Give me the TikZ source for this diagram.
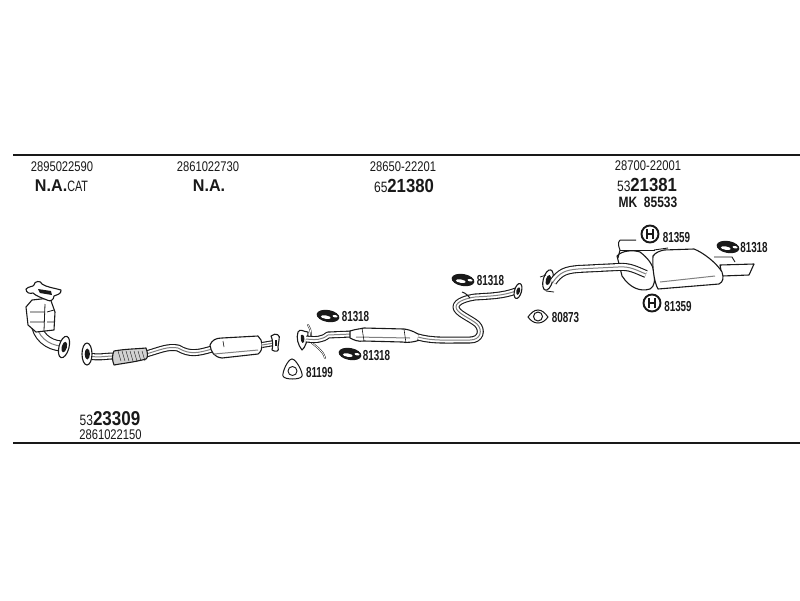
\documentclass[tikz,border=0pt]{standalone}
\usepackage{fontspec}
\setmainfont{Liberation Sans}
\usetikzlibrary{shapes.geometric}
\definecolor{ink}{gray}{0.1}
\definecolor{midg}{gray}{0.5}
\newcommand{\nr}[2]{\scalebox{#1}[1]{#2}}
\newcommand{\partno}[1]{\fontsize{14.5}{14.5}\selectfont\bfseries\nr{0.68}{#1}}
\newcommand{\codeno}[1]{\fontsize{14}{14}\selectfont\nr{0.8}{#1}}
\newcommand{\pipe}[2][7]{%
  \draw[ink,line width=#1pt,line cap=butt,line join=round] #2;
  \draw[white,line width=#1pt-2.2pt,line join=round] #2;
  \draw[midg,line width=1pt,line join=round] #2;}
\tikzset{
  txt/.style={inner sep=0pt,text=ink,anchor=center},
  outline/.style={draw=ink,line width=1.1pt,fill=white,line join=round},
  rule/.style={ink,line width=1.8pt},
  clamp/.pic={
    \fill[ink,rotate=-10] (0,0) ellipse (11.5pt and 6pt);
    \fill[white,rotate=-10] (-2,1.5) ellipse (5pt and 1.7pt);
    \fill[white,rotate=-10] (7,-1) ellipse (2.5pt and 1.2pt);
  },
  ringH/.pic={
    \draw[ink,line width=1.9pt,fill=white] (0,0) circle (8.5pt);
    \draw[ink,line width=1.7pt] (-3,-5) -- (-3,5) (3,-5) -- (3,5) (-3,0) -- (3,0);
  },
  flange/.pic={
    \draw[outline] (0,0) ellipse (5pt and 11pt);
    \fill[ink] (0.3,0) ellipse (2.6pt and 5.5pt);
  }
}
\begin{document}
\begin{tikzpicture}[x=1pt,y=-1pt]
\useasboundingbox (0,0) rectangle (800,600);
\fill[white] (0,0) rectangle (800,600);
% rules
\coordinate (t0) at (13,155); \coordinate (t1) at (800,155);
\coordinate (b0) at (13,443); \coordinate (b1) at (800,443);
\draw[rule] (t0) -- (t1);
\draw[rule] (b0) -- (b1);
% header text
\node[txt] (c1) at (62,167) {\codeno{2895022590}};
\node[txt] (n1) at (61.5,186) {\fontsize{17}{17}\selectfont\bfseries\nr{0.95}{N.A.}\fontsize{15}{15}\mdseries\selectfont\nr{0.72}{CAT}};
\node[txt] (c2) at (208,167) {\codeno{2861022730}};
\node[txt] (n2) at (209,186) {\fontsize{17}{17}\selectfont\bfseries\nr{0.95}{N.A.}};
\node[txt] (c3) at (403,167) {\codeno{28650-22201}};
\node[txt] (n3) at (404,186) {\fontsize{15}{15}\selectfont\nr{0.8}{65}\fontsize{19}{19}\bfseries\selectfont\nr{0.88}{21380}};
\node[txt] (c4) at (648,166) {\codeno{28700-22001}};
\node[txt] (n4) at (647,185) {\fontsize{15}{15}\selectfont\nr{0.8}{53}\fontsize{19}{19}\bfseries\selectfont\nr{0.88}{21381}};
\node[txt] (m4) at (648,202) {\fontsize{15}{15}\selectfont\bfseries\nr{0.8}{MK\ \ 85533}};
\node[txt] (n5) at (110,419) {\fontsize{15}{15}\selectfont\nr{0.8}{53}\fontsize{20}{20}\bfseries\selectfont\nr{0.85}{23309}};
\node[txt] (c5) at (110.5,435) {\codeno{2861022150}};
% catalytic converter
\pipe[11]{(36,322) .. controls (37,336) and (48,345) .. (61,346)}
\draw[outline] (26,307) -- (32,300) -- (50,298) -- (55,312) -- (54,330) -- (36,332) -- (28,325) -- cycle;
\draw[ink,line width=.8pt] (45,304) -- (44,331) (30,312) -- (44,312) (30,322) -- (44,322) (47,312) -- (54,310) (47,322) -- (54,322);
\draw[outline] (26,289) .. controls (29,286) and (33,287) .. (34,285) .. controls (34,281) and (41,280) .. (42,284) .. controls (46,287) and (54,288) .. (61,290) .. controls (62,294) and (56,295) .. (54,296) .. controls (54,300) and (50,302) .. (47,300) .. controls (42,298) and (36,296) .. (33,293) .. controls (30,294) and (26,293) .. (26,289) -- cycle;
\fill[ink] (38,289) -- (51,291) -- (52,295) -- (40,293) -- cycle;
\pic at (64,347) [rotate=-15] {flange};
% front pipe
\pipe{(90,356) .. controls (98,358) and (105,356) .. (114,356)}
\pipe{(146,354) .. controls (160,350) and (168,346) .. (178,348) .. controls (190,355) and (198,353) .. (212,349)}
\draw[outline,fill=midg!35] (114,351) .. controls (125,349) and (135,349) .. (146,348) .. controls (148,353) and (148,358) .. (146,359) .. controls (135,362) and (125,363) .. (114,365) .. controls (112,360) and (112,355) .. (114,351) -- cycle;
\foreach \i in {118,122,...,142} \draw[ink,line width=.4pt] (\i,351) -- (\i+3,361);
\pic at (87,354) {flange};
\draw[outline] (210,345) .. controls (212,340) and (216,338) .. (222,338) -- (258,336) .. controls (263,340) and (264,350) .. (258,354) -- (222,358) .. controls (214,357) and (211,352) .. (210,345) -- cycle;
\draw[midg,line width=1pt] (214,354) -- (258,350);
\draw[ink,line width=.6pt] (223,341) -- (224,347);
\pipe[6]{(262,345) -- (274,343)}
\draw[outline] (271,336) .. controls (276,332) and (281,335) .. (279,340) -- (278,347) .. controls (280,352) and (275,352) .. (272,350) .. controls (273,346) and (273,340) .. (271,336) -- cycle;
\fill[ink] (275,340) -- (277,340) -- (277,346) -- (275,346) -- cycle;
% centre silencer
\draw[ink,line width=1.8pt,line cap=round] (308,325) .. controls (312,330) and (311,338) .. (311,342) .. controls (315,346) and (323,350) .. (325,358);
\draw[white,line width=.8pt,line cap=round] (308,325) .. controls (312,330) and (311,338) .. (311,342) .. controls (315,346) and (323,350) .. (325,358);
\draw[outline] (298,332) .. controls (300,328) and (304,332) .. (308,332) .. controls (308,340) and (305,348) .. (302,350) .. controls (298,345) and (296,338) .. (298,332) -- cycle;
\fill[ink] (301,335) .. controls (304,334) and (305,337) .. (304,342) .. controls (302,345) and (300,340) .. (301,335) -- cycle;
\pipe{(306,339) .. controls (316,340) and (322,340) .. (328,335) -- (352,334)}
\draw[outline] (350,331) .. controls (356,329) and (360,329) .. (364,328) -- (404,329) .. controls (412,330) and (416,333) .. (420,335) -- (420,340) .. controls (414,342) and (408,343) .. (402,342) -- (364,341) .. controls (358,342) and (354,340) .. (350,338) -- cycle;
\draw[midg,line width=1pt] (356,337) -- (410,338);
\draw[ink,line width=.6pt] (362,328) -- (364,341) (404,329) -- (406,343);
\pipe{(418,337) .. controls (432,341) and (445,340) .. (470,340) .. controls (481,340) and (483,330) .. (477,324) .. controls (470,318) and (456,313) .. (456,307) .. controls (456,301) and (468,298) .. (475,297) .. controls (490,296) and (502,296) .. (516,291)}
\draw[ink,line width=1pt] (462,292) .. controls (466,293) and (468,296) .. (470,298);
\pic at (518,291) [rotate=-15,scale=0.7] {flange};
% rear silencer
\pic at (548,280) [rotate=-15,scale=0.95] {flange};
\draw[ink,line width=.8pt] (540,277) -- (546,275) (546,291) -- (554,292);
\draw[outline] (617,256) .. controls (622,250) and (634,250) .. (640,252) .. controls (648,258) and (653,265) .. (654,272) .. controls (655,280) and (655,286) .. (650,289) .. controls (640,292) and (630,288) .. (622,276) -- cycle;
\pipe[8]{(553,282) .. controls (560,272) and (566,270) .. (578,269) -- (618,267) .. controls (630,266) and (636,270) .. (646,274)}
\draw[outline] (720,265) -- (754,264) -- (749,275) -- (722,276) -- cycle;
\draw[outline] (653,256) .. controls (656,252) and (660,251) .. (664,250) -- (694,249) .. controls (702,252) and (716,262) .. (722,272) .. controls (724,278) and (723,282) .. (719,284) -- (658,289) .. controls (655,284) and (652,270) .. (653,256) -- cycle;
\draw[midg,line width=1pt] (660,282) -- (715,276);
\draw[ink,line width=1pt] (620,250) -- (618,258) (620,240) -- (636,240) (620,240) .. controls (617,243) and (619,247) .. (620,250);
\draw[ink,line width=1pt] (620,250) -- (655,250);
\draw[ink,line width=.9pt] (654,250) -- (668,248);
\draw[ink,line width=.9pt] (714,257) -- (732,257) -- (735,262);
% hardware
\pic at (328,316) {clamp};
\pic at (350,354) {clamp};
\pic at (463,280) {clamp};
\pic at (728,247) {clamp};
\pic at (650,234) {ringH};
\pic at (652,303) {ringH};
% gaskets
\draw[ink,line width=1pt] (292,359) .. controls (296,359) and (303,372) .. (302,376) .. controls (301,380) and (284,380) .. (283,376) .. controls (282,372) and (288,359) .. (292,359) -- cycle;
\draw[ink,line width=.9pt] (292.5,371) circle (4.5pt);
\draw[ink,line width=1pt] (528,317) .. controls (531,313) and (534,310) .. (538,310) .. controls (542,310) and (545,313) .. (548,317) .. controls (545,321) and (542,323) .. (538,323) .. controls (534,323) and (531,321) .. (528,317) -- cycle;
\draw[ink,line width=1pt] (538,316.5) circle (4.5pt);
% part numbers
\node[txt] (p1) at (355.5,317) {\partno{81318}};
\node[txt] (p2) at (376.5,356) {\partno{81318}};
\node[txt] (p3) at (319.5,373) {\partno{81199}};
\node[txt] (p4) at (490.5,281) {\partno{81318}};
\node[txt] (p5) at (676.5,238) {\partno{81359}};
\node[txt] (p6) at (754,248) {\partno{81318}};
\node[txt] (p7) at (678,307) {\partno{81359}};
\node[txt] (p8) at (565.5,318) {\partno{80873}};
\end{tikzpicture}
\end{document}
